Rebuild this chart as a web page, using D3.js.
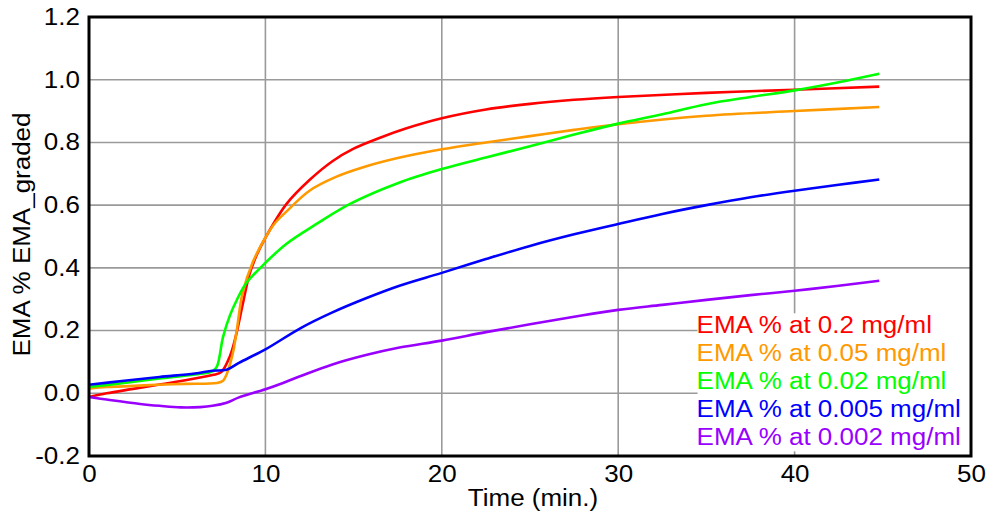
<!DOCTYPE html>
<html>
<head>
<meta charset="utf-8">
<script src="https://cdn.jsdelivr.net/npm/d3@7"></script>
<style>
body { margin: 0; background: #fff; }
text { font-family: "Liberation Sans", Arial, sans-serif; }
</style>
</head>
<body>
<div id="chart"></div>
<script>
// series: [time (min), value]
var red = [[0,-0.012],[1,0.0],[2.5,0.014],[4,0.028],[5.3,0.04],[7,0.058],[7.5,0.068],[8.0,0.12],[8.3,0.177],[8.7,0.28],[9.1,0.38],[9.5,0.44],[10,0.496],[11.2,0.604],[12.5,0.68],[13.8,0.74],[15,0.78],[16.5,0.815],[18,0.845],[20,0.877],[22.5,0.905],[25,0.923],[27.5,0.936],[30,0.945],[35,0.958],[40,0.968],[44.8,0.978]];
var orange = [[0,0.015],[1,0.02],[2,0.022],[3.85,0.027],[5.5,0.03],[7.25,0.033],[7.6,0.04],[7.8,0.06],[8.0,0.094],[8.2,0.14],[8.4,0.21],[8.7,0.318],[9.3,0.42],[10,0.496],[10.5,0.54],[11.2,0.58],[12.5,0.646],[14,0.69],[15.5,0.72],[17.5,0.75],[20,0.778],[22.5,0.80],[25,0.82],[27.5,0.84],[30,0.858],[35,0.885],[40,0.90],[44.8,0.913]];
var green = [[0,0.02],[2,0.033],[4,0.047],[6,0.06],[7,0.07],[7.25,0.085],[7.6,0.18],[8.0,0.25],[8.4,0.3],[8.9,0.35],[10,0.416],[11.2,0.477],[12.9,0.54],[14.8,0.604],[17.5,0.67],[20,0.715],[22.5,0.752],[25,0.788],[27.5,0.825],[30,0.86],[32.5,0.89],[35,0.922],[37.5,0.945],[40,0.966],[42.5,0.992],[44.8,1.019]];
var blue = [[0,0.027],[2,0.04],[4,0.052],[6,0.063],[7,0.072],[7.8,0.075],[8.5,0.097],[10,0.14],[12,0.208],[13.8,0.258],[15.7,0.303],[17.6,0.343],[20,0.384],[22.5,0.428],[25,0.47],[27.5,0.507],[30,0.54],[32.5,0.572],[35,0.6],[37.5,0.625],[40,0.646],[42.5,0.665],[44.8,0.682]];
var purple = [[0,-0.012],[1,-0.02],[2.9,-0.034],[4,-0.04],[5.2,-0.045],[6.3,-0.044],[7,-0.04],[7.8,-0.03],[8.5,-0.013],[10,0.013],[11,0.033],[12,0.055],[13.8,0.092],[15.7,0.122],[17.6,0.146],[20,0.168],[22.5,0.195],[25,0.22],[27.5,0.244],[30,0.266],[32.5,0.282],[35,0.298],[37.5,0.313],[40,0.327],[42.5,0.343],[44.8,0.359]];

var labels = ["EMA % at 0.2 mg/ml","EMA % at 0.05 mg/ml","EMA % at 0.02 mg/ml","EMA % at 0.005 mg/ml","EMA % at 0.002 mg/ml"];
var colors = ["#ff0000","#ff9900","#00ff00","#0000ff","#9900ff"];
var xTicks = [0,10,20,30,40,50];
var yTicks = [-0.2,0,0.2,0.4,0.6,0.8,1.0,1.2];

var series = [red, orange, green, blue, purple];

var W = 990, H = 516;
var margin = {top:17, right:19, bottom:60, left:89};
var width = W - margin.left - margin.right;
var height = H - margin.top - margin.bottom;
var fs = 23, stretch = 1.13;

var svg = d3.select("#chart").append("svg")
     .attr("width", W)
     .attr("height", H);
var g = svg.append("g")
     .attr("transform", "translate(" + margin.left + "," + margin.top + ")");

var x = d3.scaleLinear().domain([0,50]).range([0, width]);
var y = d3.scaleLinear().domain([-0.2,1.2]).range([height, 0]);

// grid
g.selectAll(".vgrid").data(xTicks.slice(1,-1)).enter().append("line")
     .attr("x1", function(d){ return x(d); }).attr("x2", function(d){ return x(d); })
     .attr("y1", 0).attr("y2", height)
     .attr("stroke", "#9a9a9a").attr("stroke-width", 1.6);
g.selectAll(".hgrid").data(yTicks.slice(1,-1)).enter().append("line")
     .attr("y1", function(d){ return y(d); }).attr("y2", function(d){ return y(d); })
     .attr("x1", 0).attr("x2", width)
     .attr("stroke", "#9a9a9a").attr("stroke-width", 1.6);

// tick labels
var xAxis = g.append("g")
     .attr("transform", "translate(0," + height + ")")
     .call(d3.axisBottom(x).tickValues(xTicks).tickSize(0).tickPadding(10).tickFormat(d3.format("d")));
var yAxis = g.append("g")
     .call(d3.axisLeft(y).tickValues(yTicks).tickSize(0).tickPadding(8)
          .tickFormat(function(d){ return d.toFixed(1); }));
[xAxis, yAxis].forEach(function(a){
     a.select(".domain").remove();
     a.selectAll("text").attr("font-size", fs).attr("fill", "#000")
          .attr("transform", "scale(" + stretch + ",1)")
          .style("font-family", "Liberation Sans, Arial, sans-serif");
});

// lines
var line = d3.line()
     .x(function (d) { return x(d[0]); })
     .y(function (d) { return y(d[1]); })
     .curve(d3.curveCatmullRom.alpha(0.5));

series.forEach(function(s, i){
     g.append("path")
          .datum(s)
          .attr("d", line)
          .attr("fill", "none")
          .attr("stroke", colors[i])
          .attr("stroke-width", 2.6)
          .attr("stroke-linejoin", "round");
});

// legend (white box over the grid)
var legX = x(34.5), legY = y(0.255);
g.append("rect")
     .attr("x", legX).attr("y", legY)
     .attr("width", width - legX).attr("height", y(-0.185) - legY)
     .attr("fill", "#fff");
labels.forEach(function(t, i){
     g.append("text")
          .attr("transform", "translate(" + (legX - 1) + "," + (legY + 20 + i * 27.8) + ") scale(" + stretch + ",1)")
          .attr("font-size", fs)
          .attr("fill", colors[i])
          .text(t);
});

// frame
g.append("rect")
     .attr("width", width).attr("height", height)
     .attr("fill", "none").attr("stroke", "#000").attr("stroke-width", 3);

// axis titles
svg.append("text")
     .attr("transform", "translate(" + (margin.left + width / 2 + 3) + ",506) scale(" + stretch + ",1)")
     .attr("text-anchor", "middle")
     .attr("font-size", fs)
     .text("Time (min.)");
svg.append("text")
     .attr("transform", "translate(30," + (margin.top + height / 2 - 2) + ") rotate(-90) scale(" + stretch + ",1)")
     .attr("text-anchor", "middle")
     .attr("font-size", fs)
     .text("EMA % EMA_graded");
</script>
</body>
</html>
